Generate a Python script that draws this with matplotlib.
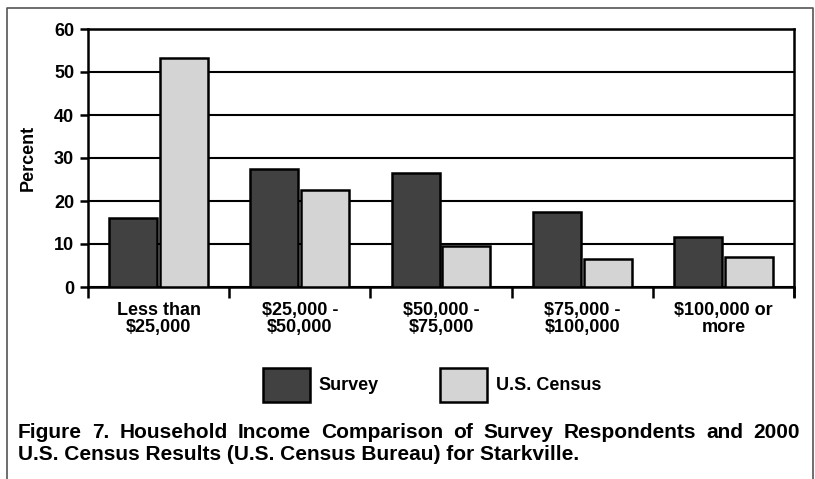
import numpy as np
import matplotlib.pyplot as plt
from matplotlib.patches import Patch
from matplotlib.lines import Line2D

# household income brackets, percent of households
categories = ["Less than\n$25,000", "$25,000 -\n$50,000", "$50,000 -\n$75,000",
              "$75,000 -\n$100,000", "$100,000 or\nmore"]
survey = [16, 27.5, 26.5, 17.5, 11.7]
census = [53.2, 22.6, 9.5, 6.5, 7]
yticks = [0, 10, 20, 30, 40, 50, 60]

caption_line1 = "Figure 7. Household Income Comparison of Survey Respondents and 2000"
caption_line2 = "U.S. Census Results (U.S. Census Bureau) for Starkville."

SURVEY_COLOR = "#414141"
CENSUS_COLOR = "#d4d4d4"
FONT = "Liberation Sans"
FS = 13

W, H = 815, 479
plt.rcParams['font.family'] = FONT
plt.rcParams['font.weight'] = 'bold'
fig = plt.figure(figsize=(W / 100, H / 100), dpi=100)

# page frame round the figure
fig.add_artist(Line2D([7 / W, 7 / W, 813 / W, 813 / W], [0, 1 - 8 / H, 1 - 8 / H, 0],
                      transform=fig.transFigure, color="#555555", lw=1.2))

ax = fig.add_axes([88 / W, 1 - 287 / H, (794 - 88) / W, (287 - 29) / H])

x = np.arange(len(categories)) + 0.5
ax.bar(x - 0.18, survey, width=0.34, color=SURVEY_COLOR, edgecolor="black",
       linewidth=1.8, zorder=3)
ax.bar(x + 0.18, census, width=0.34, color=CENSUS_COLOR, edgecolor="black",
       linewidth=1.8, zorder=3)

ax.set_xlim(0, len(categories))
ax.set_ylim(0, 60)
ax.set_yticks(yticks)
ax.set_yticklabels([str(t) for t in yticks], fontsize=FS, fontweight='bold')
ax.yaxis.grid(True, color="black", lw=1.5, zorder=1)

# boundaries get tick marks, centres get the labels
ax.set_xticks(np.arange(len(categories) + 1))
ax.set_xticklabels([])
ax.set_xticks(x, minor=True)
ax.set_xticklabels(categories, minor=True, fontsize=FS, fontweight='bold',
                   linespacing=1.0)
ax.tick_params(axis='x', which='major', direction='out', length=8, width=1.8)
ax.tick_params(axis='x', which='minor', length=0, pad=11)
ax.tick_params(axis='y', direction='out', length=6, width=1.8, pad=4)

for side in ['left', 'bottom', 'right', 'top']:
    ax.spines[side].set_linewidth(1.8)
ax.spines['right'].set_bounds(-2, 60)
ax.spines['right'].set_clip_on(False)

ax.set_ylabel("Percent", fontsize=FS, fontweight='bold')
ax.yaxis.set_label_coords((37 - 88) / (794 - 88), 0.5)

handles = [Patch(facecolor=SURVEY_COLOR, edgecolor="black", lw=1.8, label="Survey"),
           Patch(facecolor=CENSUS_COLOR, edgecolor="black", lw=1.8, label="U.S. Census")]
fig.legend(handles=handles, loc='center', bbox_to_anchor=(432 / W, 1 - 385 / H),
           ncol=2, frameon=False, handlelength=2.6, handleheight=2.6,
           handletextpad=0.5, columnspacing=3.4,
           prop={'family': FONT, 'weight': 'bold', 'size': FS})

# caption: first line justified across the frame, second line flush left
cap_fs = 15
renderer = fig.canvas.get_renderer()
words = caption_line1.split()
texts = [fig.text(0, 1 - 433 / H, w, fontsize=cap_fs, fontweight='bold',
                  ha='left', va='center') for w in words]
widths = [t.get_window_extent(renderer).width for t in texts]
gap = (800 - 18 - sum(widths)) / (len(words) - 1)
pos = 18
for t, w in zip(texts, widths):
    t.set_x(pos / W)
    pos += w + gap
fig.text(18 / W, 1 - 455 / H, caption_line2, fontsize=cap_fs, fontweight='bold',
         ha='left', va='center')

fig.savefig("out.png", dpi=100)
